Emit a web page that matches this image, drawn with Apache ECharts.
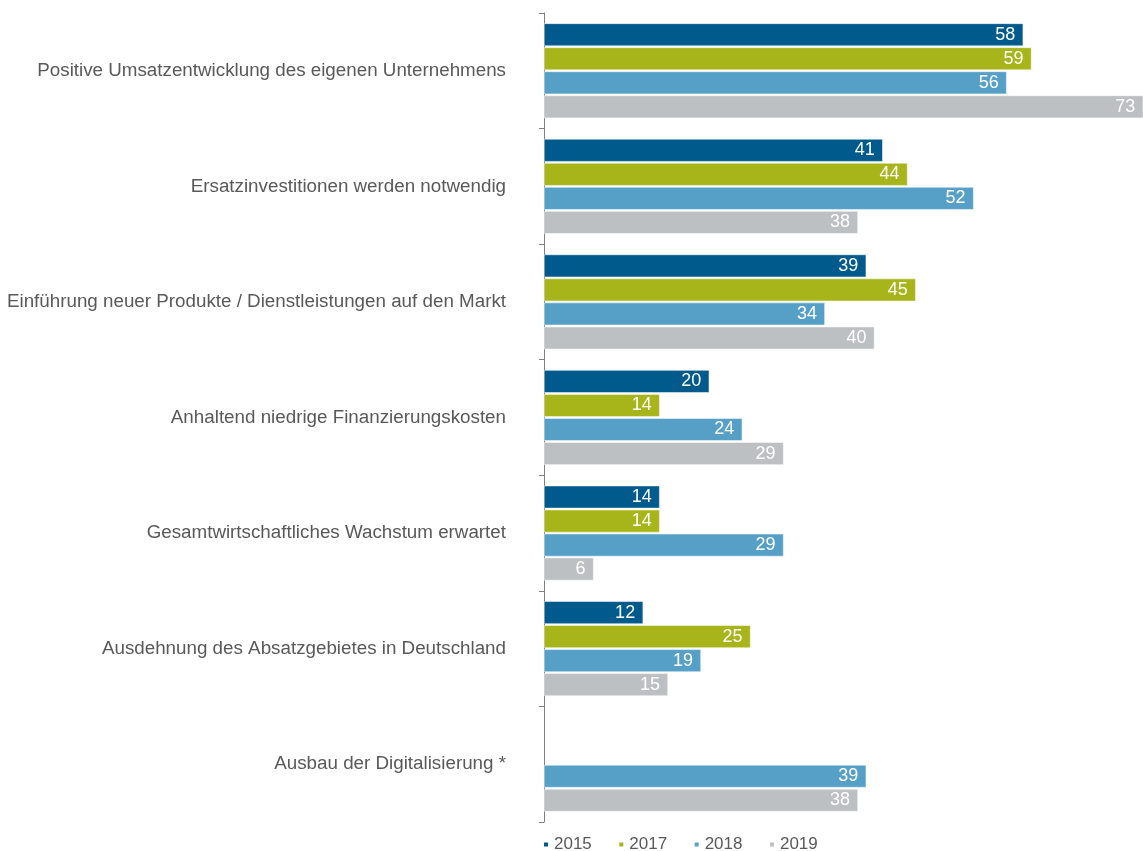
<!DOCTYPE html>
<html>
<head>
<meta charset="utf-8">
<script src="https://cdn.jsdelivr.net/npm/echarts@6/dist/echarts.min.js"></script>
<style>
html,body{margin:0;padding:0;background:#fff;}
#main{width:1143px;height:851px;}
</style>
</head>
<body>
<div id="main"></div>
<script>
const categories = [
  'Positive Umsatzentwicklung des eigenen Unternehmens',
  'Ersatzinvestitionen werden notwendig',
  'Einführung neuer Produkte / Dienstleistungen auf den Markt',
  'Anhaltend niedrige Finanzierungskosten',
  'Gesamtwirtschaftliches Wachstum erwartet',
  'Ausdehnung des Absatzgebietes in Deutschland',
  'Ausbau der Digitalisierung *'
];
const seriesNames = ['2015', '2017', '2018', '2019'];
const values2015 = [58, 41, 39, 20, 14, 12, null];
const values2017 = [59, 44, 45, 14, 14, 25, null];
const values2018 = [56, 52, 34, 24, 29, 19, 39];
const values2019 = [73, 38, 40, 29, 6, 15, 38];
const colors = ['#005A8C', '#A7B51A', '#56A0C8', '#BDC0C3'];

const allValues = [values2015, values2017, values2018, values2019];
const chart = echarts.init(document.getElementById('main'));
chart.setOption({
  animation: false,
  textStyle: { fontFamily: 'Liberation Sans, Arial, sans-serif' },
  grid: { left: 544, top: 13, right: 0, height: 809, containLabel: false },
  xAxis: {
    type: 'value', min: 0, max: 72.5,
    show: false
  },
  yAxis: {
    type: 'category', data: categories, inverse: true,
    axisLine: { show: true, lineStyle: { color: '#7f7f7f', width: 1 } },
    axisTick: { show: true, inside: false, length: 5, lineStyle: { color: '#7f7f7f' } },
    axisLabel: { color: '#595959', fontSize: 18.8, margin: 38, fontFamily: 'Liberation Sans, Arial, sans-serif' }
  },
  legend: {
    data: seriesNames,
    left: 537, top: 831,
    icon: 'rect', itemWidth: 6, itemHeight: 6, itemGap: 25.5,
    textStyle: { color: '#595959', fontSize: 17 }
  },
  series: seriesNames.map((name, i) => ({
    name: name,
    type: 'bar',
    data: allValues[i],
    itemStyle: { color: colors[i], borderColor: '#ffffff', borderWidth: 0.5 },
    barGap: '6%',
    barCategoryGap: '18%',
    label: {
      show: true, position: 'insideRight', distance: 8,
      color: '#ffffff', fontSize: 18, fontFamily: 'Liberation Sans, Arial, sans-serif'
    }
  }))
});
</script>
</body>
</html>
